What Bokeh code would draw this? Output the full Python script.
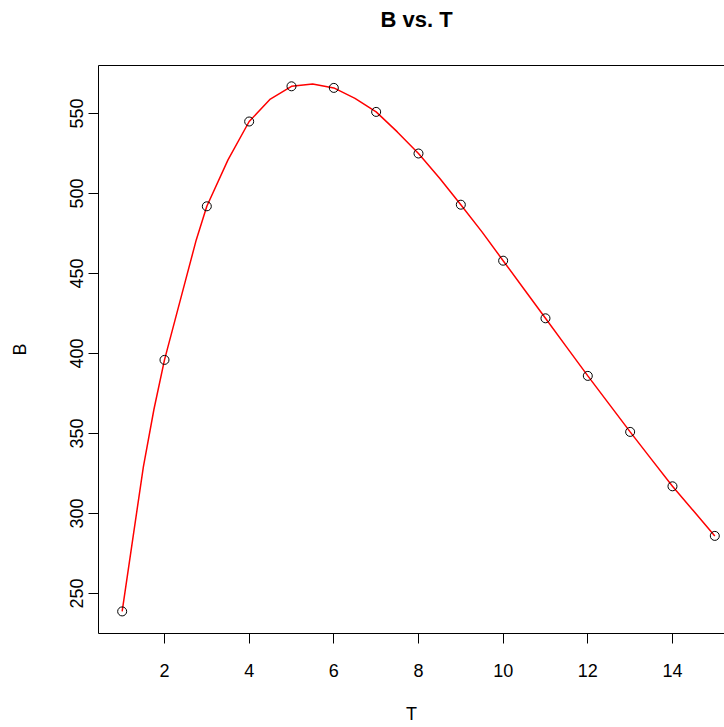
from bokeh.plotting import figure
from bokeh.models import Range1d, FixedTicker, LinearAxis
from bokeh.embed import file_html
from bokeh.resources import INLINE

# observed points
T_obs = [1, 2, 3, 4, 5, 6, 7, 8, 9, 10, 11, 12, 13, 14, 15]
B_obs = [238.8, 396, 492, 545, 567, 566, 551, 525, 493, 458, 422, 386, 351, 317, 286]

# fitted curve
T_fit = [1, 1.25, 1.5, 1.75, 2, 2.25, 2.5, 2.75, 3, 3.5, 4, 4.5, 5, 5.5, 6, 6.5,
         7, 7.5, 8, 8.5, 9, 9.5, 10, 10.5, 11, 11.5, 12, 12.5, 13, 13.5, 14, 14.5, 15]
B_fit = [238.8, 284, 329, 365, 396, 421, 446, 471, 492, 521, 545, 559, 567, 568.5, 566, 559.5,
         551, 538.5, 525, 509.5, 493, 476, 458, 440, 422, 404, 386, 368.5, 351, 334, 317, 301.5, 286]

x_ticks = [2, 4, 6, 8, 10, 12, 14]
y_ticks = [250, 300, 350, 400, 450, 500, 550]

TITLE = "B vs. T"
FONT = "Liberation Sans"

p = figure(width=724, height=727, x_range=Range1d(0.441, 15.229), y_range=Range1d(225, 580),
           output_backend="svg", toolbar_location=None,
           min_border_left=98, min_border_right=0, min_border_top=65, min_border_bottom=94)
p.outline_line_color = None
p.grid.visible = False
p.background_fill_color = "white"
p.border_fill_color = "white"

# trailing blank line makes the title panel tall so the text sits near the top
p.title.text = TITLE + "\n "
p.title.text_font = FONT
p.title.text_font_size = "22px"
p.title.text_font_style = "bold"
p.title.text_color = "black"
p.title.align = "left"
p.title.offset = 282
p.title.vertical_align = "top"
p.title.standoff = 13

for ax in (p.xaxis[0], p.yaxis[0]):
    ax.axis_line_color = "black"
    ax.axis_line_width = 1
    ax.major_tick_line_color = "black"
    ax.major_tick_in = 0
    ax.major_tick_out = 10
    ax.minor_tick_line_color = None
    ax.major_label_text_font = FONT
    ax.major_label_text_font_size = "18px"
    ax.major_label_text_color = "black"
    ax.axis_label_text_font = FONT
    ax.axis_label_text_font_size = "18px"
    ax.axis_label_text_font_style = "normal"
    ax.axis_label_text_color = "black"

p.xaxis.ticker = FixedTicker(ticks=x_ticks)
p.yaxis.ticker = FixedTicker(ticks=y_ticks)
p.xaxis.axis_label = "T"
p.yaxis.axis_label = "B"
p.xaxis.major_label_standoff = 20
p.xaxis.axis_label_standoff = 24
p.yaxis.major_label_standoff = 6
p.yaxis.major_label_orientation = "vertical"
p.yaxis.axis_label_standoff = 37

top = LinearAxis(ticker=FixedTicker(ticks=[]), axis_line_color="black",
                 major_tick_line_color=None, minor_tick_line_color=None,
                 major_label_text_color=None)
p.add_layout(top, "above")

p.line(T_fit, B_fit, line_color="#FF0000", line_width=1.5)
p.scatter(T_obs, B_obs, marker="circle", size=9, fill_color=None,
          line_color="black", line_width=1)

open("out.html", "w").write(file_html(p, INLINE))
